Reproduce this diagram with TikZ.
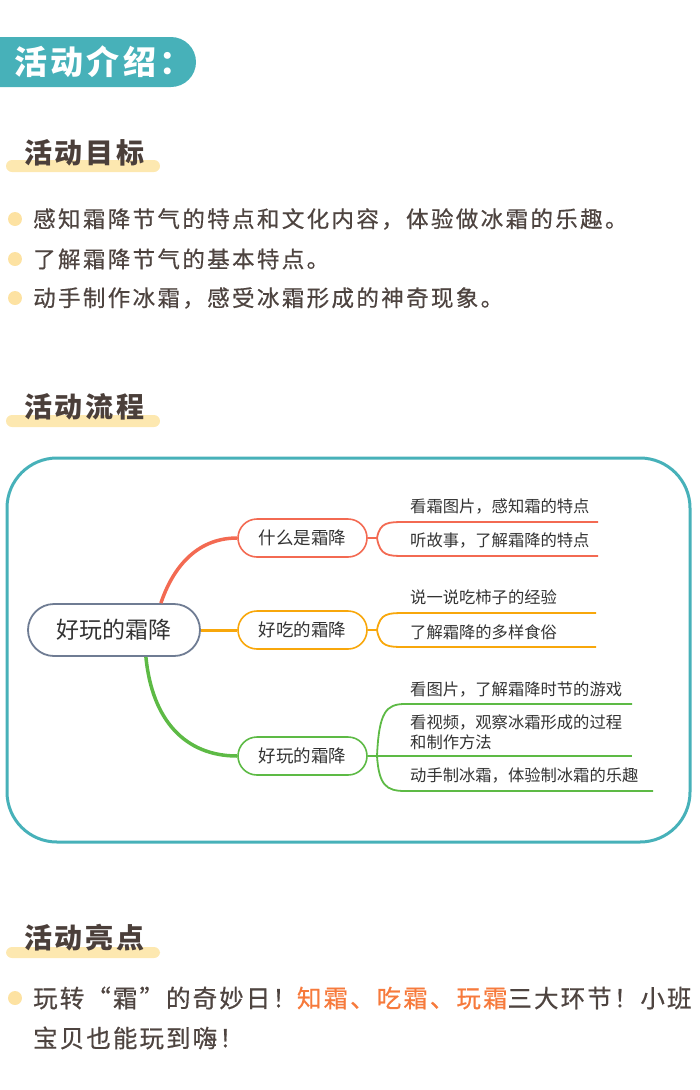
\documentclass[tikz,border=0pt]{standalone}
\usepackage{fontspec}
\setmainfont{Noto Sans CJK SC}
\definecolor{teal}{HTML}{47B1B9}
\definecolor{headc}{HTML}{4B3F3A}
\definecolor{barc}{HTML}{FDE8B0}
\definecolor{dotc}{HTML}{FDE2A2}
\definecolor{bodyc}{HTML}{4E4440}
\definecolor{redc}{HTML}{F36A52}
\definecolor{orc}{HTML}{F8A70B}
\definecolor{grc}{HTML}{5DBA45}
\definecolor{rootc}{HTML}{6F7C93}
\definecolor{hlc}{HTML}{F67A3C}
\definecolor{mmtext}{HTML}{333333}
\tikzset{
  sectitle/.style={anchor=west, inner sep=0pt, text=headc, font=\fontsize{28}{30}\selectfont\bfseries\addfontfeature{LetterSpace=10}},
  secbar/.style={fill=barc, rounded corners=6pt},
  bodytext/.style={anchor=west, inner sep=0pt, text=bodyc, font=\fontsize{22.5}{26}\selectfont\addfontfeature{LetterSpace=10.5,FakeBold=0.6}},
  bdot/.style={circle, fill=dotc, minimum size=14pt, inner sep=0pt},
  branch/.style={draw, rounded corners=19pt, line width=1.6pt, minimum width=129pt, minimum height=38pt, inner sep=0pt, text=mmtext, font=\fontsize{17.5}{20}\selectfont},
  subtext/.style={anchor=west, inner sep=0pt, text=mmtext, font=\fontsize{16.3}{18}\selectfont},
  subline/.style={line width=1.8pt},
}
\begin{document}
\begin{tikzpicture}[x=1pt,y=-1pt]
\useasboundingbox (0,0) rectangle (700,1090);
% header
\fill[teal] (0,37) -- (171,37) arc[start angle=-90, end angle=90, radius=25] -- (0,87) -- cycle;
\node[anchor=west, inner sep=0pt, text=white, font=\fontsize{33}{36}\selectfont\bfseries\addfontfeature{LetterSpace=10}] (head) at (14,62) {活动介绍：};
% section 1
\fill[secbar] (6,160) rectangle (160,172);
\node[sectitle] (t1) at (24,153) {活动目标};
\node[bdot] (d1) at (15,219) {};
\node[bdot] (d2) at (15,259) {};
\node[bdot] (d3) at (15,298) {};
\node[bodytext] (b1) at (33,219) {感知霜降节气的特点和文化内容，体验做冰霜的乐趣。};
\node[bodytext] (b2) at (33,259) {了解霜降节气的基本特点。};
\node[bodytext] (b3) at (33,298) {动手制作冰霜，感受冰霜形成的神奇现象。};
% section 2
\fill[secbar] (6,415) rectangle (160,427);
\node[sectitle] (t2) at (24,407) {活动流程};
\draw[teal, line width=3pt, rounded corners=50pt] (7,458) rectangle (690,842);
% mind map
\node[draw=rootc, line width=1.8pt, rounded corners=26pt, minimum width=172pt, minimum height=52pt, inner sep=0pt, text=mmtext, font=\fontsize{23}{26}\selectfont] (root) at (114,630) {好玩的霜降};
\node[branch, draw=redc] (n1) at (302.5,538) {什么是霜降};
\node[branch, draw=orc] (n2) at (302.5,630) {好吃的霜降};
\node[branch, draw=grc] (n3) at (302.5,756) {好玩的霜降};
\draw[redc, line width=3.5pt] (root.north east) ++(-40,0) .. controls (172,570) and (195,538) .. (n1.west);
\draw[orc, line width=3pt] (root.east) -- (n2.west);
\draw[grc, line width=3.5pt] (root.south east) ++(-55,0) .. controls (152,720) and (185,756) .. (n3.west);
% sub branches red
\coordinate (s1) at (377,538);
\coordinate (r1) at (598,522);
\coordinate (r2) at (598,556);
\draw[redc, subline] (n1.east) -- (s1) .. controls (380,522) and (388,522) .. (405,522) -- (r1);
\draw[redc, subline] (s1) .. controls (380,556) and (388,556) .. (405,556) -- (r2);
\node[subtext] (a1) at (410,506) {看霜图片，感知霜的特点};
\node[subtext] (a2) at (410,540) {听故事，了解霜降的特点};
% orange
\coordinate (s2) at (377,630);
\coordinate (o1) at (596,613);
\coordinate (o2) at (596,647);
\draw[orc, subline] (n2.east) -- (s2) .. controls (380,613) and (388,613) .. (405,613) -- (o1);
\draw[orc, subline] (s2) .. controls (380,647) and (388,647) .. (405,647) -- (o2);
\node[subtext] (c1) at (410,597) {说一说吃柿子的经验};
\node[subtext] (c2) at (410,632) {了解霜降的多样食俗};
% green
\coordinate (s3) at (377,756);
\coordinate (g1) at (632,704);
\coordinate (g2) at (632,756);
\coordinate (g3) at (653,791);
\draw[grc, subline] (n3.east) -- (s3) .. controls (379,712) and (386,704) .. (405,704) -- (g1);
\draw[grc, subline] (s3) -- (g2);
\draw[grc, subline] (s3) .. controls (379,785) and (386,791) .. (405,791) -- (g3);
\node[subtext] (e1) at (410,689) {看图片，了解霜降时节的游戏};
\node[subtext] (e2) at (410,722) {看视频，观察冰霜形成的过程};
\node[subtext] (e2b) at (410,742) {和制作方法};
\node[subtext] (e3) at (410,775) {动手制冰霜，体验制冰霜的乐趣};
% section 3
\fill[secbar] (6,947) rectangle (160,958);
\node[sectitle] (t3) at (24,938) {活动亮点};
\node[bdot] (d4) at (15,998) {};
\node[bodytext, font=\fontsize{24.5}{28}\selectfont\addfontfeature{LetterSpace=8.5,FakeBold=0.6}] (h1) at (33,998) {玩转“霜”的奇妙日！{\color{hlc}知霜、吃霜、玩霜}三大环节！小班};
\node[bodytext, font=\fontsize{24.5}{28}\selectfont\addfontfeature{LetterSpace=8.5,FakeBold=0.6}] (h2) at (33,1038) {宝贝也能玩到嗨！};
\end{tikzpicture}
\end{document}
